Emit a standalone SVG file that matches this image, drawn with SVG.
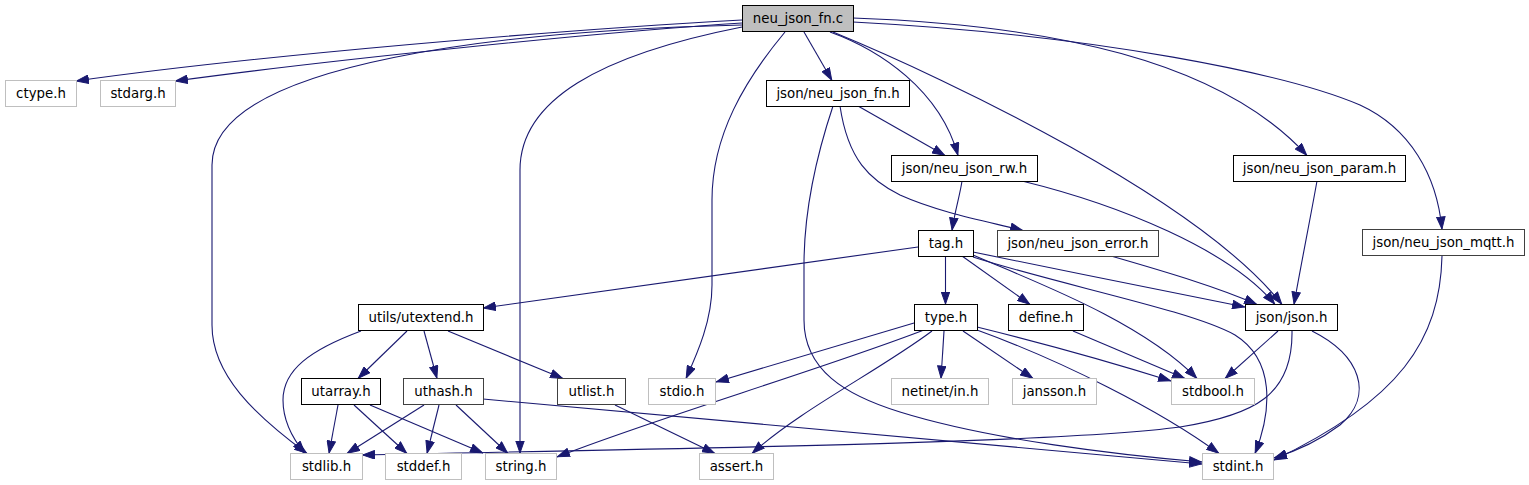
<svg xmlns="http://www.w3.org/2000/svg" width="1529" height="485" viewBox="0 0 1529 485">
<style>
.n rect{fill:#fff;stroke:#000;stroke-width:1}
.n.g rect{stroke:#404040}
.n.x rect{stroke:#bfbfbf}
.n.r rect{fill:#bfbfbf;stroke:#000}
text{font-family:"DejaVu Sans","Liberation Sans",sans-serif;font-size:13.33px;fill:#000;text-anchor:middle}
.e path{fill:none;stroke:#191970;stroke-width:1.1;marker-end:url(#ah)}
</style>
<defs>
<marker id="ah" viewBox="0 0 13 9.4" refX="13" refY="4.7" markerWidth="13" markerHeight="9.4" markerUnits="userSpaceOnUse" orient="auto">
<path d="M0.5,0.5 L12.5,4.7 L0.5,8.9 z" fill="#191970" stroke="#191970" stroke-width="1"/>
</marker>
</defs>
<rect width="1529" height="485" fill="#fff"/>
<g id="connectors" class="e">
<path d="M742,20 C560,30 260,55 76,81"/>
<path d="M742,23 C600,32 330,60 175,81"/>
<path d="M742,25 C520,30 212,60 212,165 L212,325 C212,375 255,415 307,453.5"/>
<path d="M742,27 C600,55 520,100 520,170 L520,453.5"/>
<path d="M785,32 C745,80 712,135 712,200 L712,285 C712,320 698,352 686,378.5"/>
<path d="M804,32 L832,80.5"/>
<path d="M830,32 C880,50 940,90 958,155.5"/>
<path d="M833,32 C950,80 1200,200 1282,304.5"/>
<path d="M853,18 C1050,25 1220,60 1307,155.5"/>
<path d="M853,22 C1100,35 1290,75 1360,105 C1410,128 1437,175 1442,229.5"/>
<path d="M858,106 L945,155.5"/>
<path d="M840,106 C848,160 870,180 900,195 C940,213 990,222 1023,230.5"/>
<path d="M833,106 C815,160 804,215 804,265 L804,320 C804,370 845,395 900,412 C990,440 1120,455 1202,462"/>
<path d="M962,181 C960,195 955,210 952,230.5"/>
<path d="M1022,181 C1120,205 1230,250 1275,304.5"/>
<path d="M1317,181 C1310,220 1300,270 1294,304.5"/>
<path d="M1442,256 C1440,340 1400,400 1274,460"/>
<path d="M918,247 L483,308"/>
<path d="M945.5,256 L945.5,304.5"/>
<path d="M962,256 L1030,304.5"/>
<path d="M973,252 C1060,270 1170,292 1245,307"/>
<path d="M973,255 C1030,280 1140,320 1197,378.5"/>
<path d="M973,257 C1060,285 1190,310 1235,335 C1275,360 1272,410 1255,453.5"/>
<path d="M1111,256 C1170,273 1220,288 1257,304.5"/>
<path d="M361,331 C310,350 283,370 283,400 C283,420 292,438 305,453.5"/>
<path d="M407,331 L358,378.5"/>
<path d="M424,331 L437,378.5"/>
<path d="M448,331 L563,378.5"/>
<path d="M914,323 L716,382"/>
<path d="M924,330 C820,370 650,420 557,457"/>
<path d="M932,331 C880,370 800,410 752,453.5"/>
<path d="M944,331 L941,378.5"/>
<path d="M963,331 L1033,378.5"/>
<path d="M977,327 C1050,345 1120,365 1171,381"/>
<path d="M977,330 C1060,360 1160,410 1219,453.5"/>
<path d="M1073,331 L1185,378.5"/>
<path d="M1278,331 L1225,378.5"/>
<path d="M1292,331 C1293,395 1255,415 1180,427 C1060,443 700,448 362,455"/>
<path d="M1312,331 C1360,355 1375,395 1340,425 C1320,440 1300,450 1274,458"/>
<path d="M338,405 L329,453.5"/>
<path d="M354,405 L407,453.5"/>
<path d="M370,405 L483,453"/>
<path d="M424,405 L347,453.5"/>
<path d="M439,405 L427,453.5"/>
<path d="M456,405 L508,453.5"/>
<path d="M483,399 C600,410 900,438 1202,464"/>
<path d="M615,405 L715,453.5"/>
</g>
<g id="node-neu_json_fn_c" class="n r"><rect x="742.5" y="5.5" width="111" height="26"/><text x="798" y="23">neu_json_fn.c</text></g>
<g id="node-ctype_h" class="n x"><rect x="5.5" y="80.5" width="71" height="26"/><text x="41" y="98">ctype.h</text></g>
<g id="node-stdarg_h" class="n x"><rect x="100.5" y="80.5" width="75" height="26"/><text x="138" y="98">stdarg.h</text></g>
<g id="node-json_neu_json_fn_h" class="n"><rect x="766.5" y="80.5" width="143" height="26"/><text x="838" y="98">json/neu_json_fn.h</text></g>
<g id="node-json_neu_json_rw_h" class="n"><rect x="891.5" y="155.5" width="146" height="26"/><text x="964.5" y="173">json/neu_json_rw.h</text></g>
<g id="node-json_neu_json_param_h" class="n"><rect x="1233.5" y="155.5" width="172" height="26"/><text x="1319.5" y="173">json/neu_json_param.h</text></g>
<g id="node-tag_h" class="n"><rect x="918.5" y="230.5" width="55" height="26"/><text x="946" y="248">tag.h</text></g>
<g id="node-json_neu_json_error_h" class="n g"><rect x="997.5" y="230.5" width="161" height="26"/><text x="1078" y="248">json/neu_json_error.h</text></g>
<g id="node-json_neu_json_mqtt_h" class="n g"><rect x="1362.5" y="229.5" width="162" height="26"/><text x="1443.5" y="247">json/neu_json_mqtt.h</text></g>
<g id="node-utils_utextend_h" class="n"><rect x="358.5" y="304.5" width="125" height="26"/><text x="421" y="322">utils/utextend.h</text></g>
<g id="node-type_h" class="n"><rect x="914.5" y="304.5" width="63" height="26"/><text x="946" y="322">type.h</text></g>
<g id="node-define_h" class="n"><rect x="1008.5" y="304.5" width="75" height="26"/><text x="1046" y="322">define.h</text></g>
<g id="node-json_json_h" class="n"><rect x="1245.5" y="304.5" width="92" height="26"/><text x="1291.5" y="322">json/json.h</text></g>
<g id="node-utarray_h" class="n"><rect x="301.5" y="378.5" width="79" height="26"/><text x="341" y="396">utarray.h</text></g>
<g id="node-uthash_h" class="n g"><rect x="403.5" y="378.5" width="80" height="26"/><text x="443.5" y="396">uthash.h</text></g>
<g id="node-utlist_h" class="n g"><rect x="557.5" y="378.5" width="68" height="26"/><text x="591.5" y="396">utlist.h</text></g>
<g id="node-stdio_h" class="n x"><rect x="648.5" y="378.5" width="67" height="26"/><text x="682" y="396">stdio.h</text></g>
<g id="node-netinet_in_h" class="n x"><rect x="891.5" y="378.5" width="97" height="26"/><text x="940" y="396">netinet/in.h</text></g>
<g id="node-jansson_h" class="n x"><rect x="1012.5" y="378.5" width="84" height="26"/><text x="1054.5" y="396">jansson.h</text></g>
<g id="node-stdbool_h" class="n x"><rect x="1171.5" y="378.5" width="83" height="26"/><text x="1213" y="396">stdbool.h</text></g>
<g id="node-stdlib_h" class="n x"><rect x="290.5" y="453.5" width="72" height="26"/><text x="326.5" y="471">stdlib.h</text></g>
<g id="node-stddef_h" class="n x"><rect x="385.5" y="453.5" width="76" height="26"/><text x="423.5" y="471">stddef.h</text></g>
<g id="node-string_h" class="n x"><rect x="485.5" y="453.5" width="71" height="26"/><text x="521" y="471">string.h</text></g>
<g id="node-assert_h" class="n x"><rect x="699.5" y="453.5" width="74" height="26"/><text x="736.5" y="471">assert.h</text></g>
<g id="node-stdint_h" class="n x"><rect x="1202.5" y="453.5" width="71" height="26"/><text x="1238" y="471">stdint.h</text></g>
</svg>
